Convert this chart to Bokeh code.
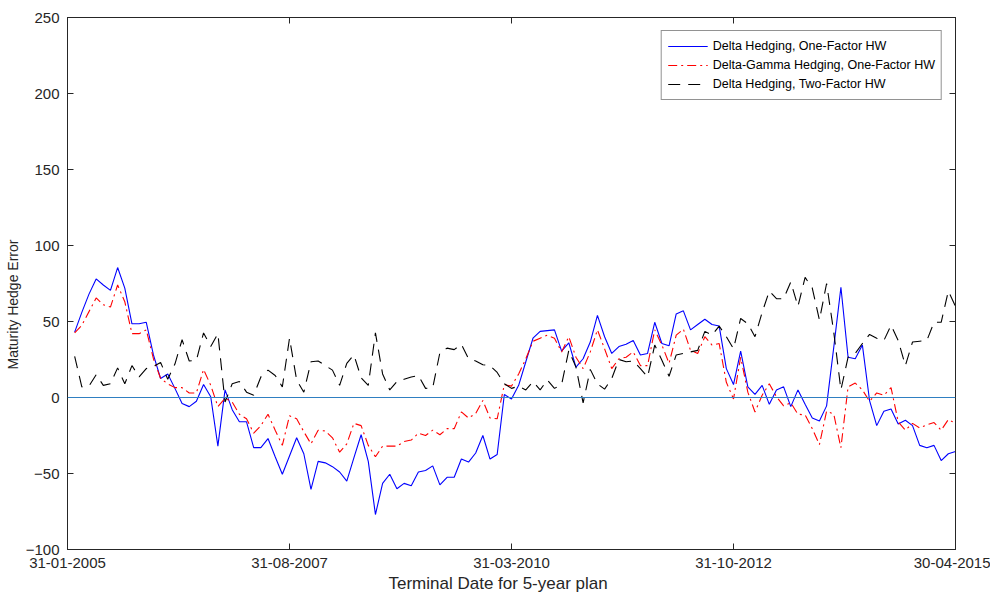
from bokeh.plotting import figure
from bokeh.models import Range1d, FixedTicker, LinearAxis, Legend, LegendItem, Span, Title
from bokeh.embed import file_html
from bokeh.resources import INLINE

# Monthly plan index (1..124) and the three hedge error series
plan_month = list(range(1, 125))

delta_one_factor = [
    43, 56, 68, 78, 74, 70.5, 85.5, 72, 48.5, 48.5,
    49.5, 28, 12.5, 15.5, 6, -4, -6, -2.5, 8.5, 0.5,
    -32, 5, -8, -16, -16, -33, -33, -27, -39, -50.5,
    -38.5, -26.5, -37, -60.5, -42, -43, -45.5, -49, -55, -39.5,
    -24.5, -42, -77, -56.5, -50.5, -60, -56.5, -58, -49, -48,
    -45, -57.5, -52.5, -52.5, -40.5, -42.5, -36.5, -25, -40.5, -37.5,
    2, -1, 8, 23.5, 39, 43.5, 44, 44.5, 30.5, 36,
    20, 25.5, 36.5, 54, 40, 29, 33.5, 35, 37.5, 28,
    29, 49.5, 35.5, 34, 55, 57, 44.5, 48, 51.5, 48,
    47, 19, 8.5, 30.5, 7, 2, 8, -4.5, 5, 7,
    -6, 5, -4.5, -13.5, -15.5, -5.5, 33, 72.5, 26.5, 25.5,
    34.5, -2, -18.5, -9, -7.5, -17.5, -15, -18.5, -31.5, -33,
    -31.5, -41.5, -37, -35.5,
]

delta_gamma_one_factor = [
    42.5, 47.5, 56.5, 65.5, 61, 59.5, 74, 63, 42, 42,
    44.5, 25.5, 12.5, 9, 6.5, 6.5, 3, 3, 18.5, 8,
    -6, -0.5, -3, -11, -14, -23.5, -18.5, -11, -21.5, -31.5,
    -12, -14, -22.5, -30.5, -21.5, -22, -26.5, -36, -30.5, -17,
    -18.5, -31.5, -39, -32, -32, -32, -29, -28, -23.5, -25,
    -21.5, -24.5, -20.5, -20.5, -9.5, -13.5, -10.5, -2, -13.5, -14,
    8.5, 7.5, 15.5, 25.5, 37, 39, 41, 39, 30, 40,
    26.5, 19, 30, 44.5, 32, 19, 25.5, 26.5, 30, 21,
    21, 44.5, 34.5, 22.5, 41, 45, 31, 29, 40, 34.5,
    35.5, 10, -1, 26.5, 3.5, -9.5, 1.5, 9, 0.5, -5.5,
    -3.5, -11, -11.5, -20.5, -31, -9, -11, -33, 7, 9.5,
    5, -2.5, 3, 1.5, 6.5, -16, -21.5, -17, -20, -18,
    -16.5, -21.5, -14.5, -17,
]

delta_two_factor = [
    27, 7, 7.5, 15, 8, 9, 19.5, 9, 21, 13.5,
    19, 20.5, 23, 12, 22, 38, 24, 24.5, 42.5, 33.5,
    42, -3, 9, 10.5, 3.5, 1.5, 13.5, 18, 14.5, 7,
    39, 11.5, 3.5, 23.5, 24, 21, 18, 8, 22.5, 28,
    13, 8, 42.5, 15.5, 5, 10.5, 12, 13.5, 14.5, 6,
    6.5, 29.5, 32.5, 31.5, 35, 25.5, 24, 21.5, 21, 16.5,
    9, 6, 7.5, 5, 10.5, 5, 11.5, 6, 8.5, 31,
    20, -3.5, 18.5, 9, 5.5, 12.5, 25, 23.5, 24, 19,
    13.5, 34.5, 24.5, 14, 28, 29, 30, 31, 43.5, 41,
    47, 40, 32, 52, 48.5, 40, 56, 70, 65, 65,
    76, 60, 79, 72, 51, 75, 43, 5, 26.5, 29,
    35.5, 41.5, 39, 37.5, 47.5, 37.5, 21, 36.5, 37, 37.5,
    49.5, 49.5, 70, 60,
]

tick_positions = [0, 31, 62, 93, 124]
tick_labels = ["31-01-2005", "31-08-2007", "31-03-2010", "31-10-2012", "30-04-2015"]
y_ticks = [-100, -50, 0, 50, 100, 150, 200, 250]

FONT = "Liberation Sans"
AXIS_COLOR = "#262626"

p = figure(
    width=990, height=600,
    output_backend="svg", toolbar_location=None,
    x_range=Range1d(0, 124), y_range=Range1d(-100, 250),
    min_border_left=65, min_border_right=35,
    min_border_top=17, min_border_bottom=51,
    background_fill_color="white", border_fill_color="white",
)
p.grid.visible = False
p.outline_line_color = AXIS_COLOR
p.outline_line_width = 1


def style_axis(ax, show_labels=True):
    ax.axis_line_color = AXIS_COLOR
    ax.major_tick_line_color = AXIS_COLOR
    ax.major_tick_in = 6
    ax.major_tick_out = 0
    ax.minor_tick_line_color = None
    ax.major_label_text_font = FONT
    ax.major_label_text_color = AXIS_COLOR
    if show_labels:
        ax.major_label_text_font_size = "15px"
        ax.major_label_standoff = 8
    else:
        ax.major_label_text_font_size = "0px"
        ax.major_label_standoff = 0


xa = p.xaxis[0]
xa.ticker = FixedTicker(ticks=tick_positions)
xa.major_label_overrides = {t: s for t, s in zip(tick_positions, tick_labels)}
style_axis(xa)

ya = p.yaxis[0]
ya.ticker = FixedTicker(ticks=y_ticks)
style_axis(ya)

# box ticks on the top and right edges
top_axis = LinearAxis(ticker=FixedTicker(ticks=tick_positions))
style_axis(top_axis, show_labels=False)
top_axis.major_label_overrides = {t: "" for t in tick_positions}
p.add_layout(top_axis, "above")

right_axis = LinearAxis(ticker=FixedTicker(ticks=y_ticks))
style_axis(right_axis, show_labels=False)
right_axis.major_label_overrides = {t: "" for t in y_ticks}
p.add_layout(right_axis, "right")

# axis titles
p.add_layout(Title(text="Terminal Date for 5-year plan", align="left", offset=321,
                   text_font=FONT, text_font_size="17px", text_font_style="normal",
                   text_color=AXIS_COLOR, standoff=2), "below")
p.add_layout(Title(text="Maturity Hedge Error", align="left", offset=180,
                   text_font=FONT, text_font_size="14px", text_font_style="normal",
                   text_color=AXIS_COLOR, standoff=4), "left")

# zero reference line
p.add_layout(Span(location=0, dimension="width", line_color="#2F7FC1", line_width=1.2))

r_delta = p.line(plan_month, delta_one_factor, line_color="#0000FF", line_width=1.1)
r_gamma = p.line(plan_month, delta_gamma_one_factor, line_color="#FF0000", line_width=1.1,
                 line_dash="9 4 2 4")
r_two = p.line(plan_month, delta_two_factor, line_color="#000000", line_width=1.1,
               line_dash="12 8")

legend = Legend(
    items=[
        LegendItem(label="Delta Hedging, One-Factor HW", renderers=[r_delta]),
        LegendItem(label="Delta-Gamma Hedging, One-Factor HW", renderers=[r_gamma]),
        LegendItem(label="Delta Hedging, Two-Factor HW", renderers=[r_two]),
    ],
    location="top_right",
    label_text_font=FONT,
    label_text_font_size="12.5px",
    label_text_color="#000000",
    glyph_width=40, glyph_height=18, label_height=18,
    label_standoff=5, spacing=1, padding=6, margin=13,
    border_line_color=AXIS_COLOR, border_line_width=1,
    background_fill_color="white", background_fill_alpha=1,
)
p.add_layout(legend, "center")

open("out.html", "w").write(file_html(p, INLINE))
